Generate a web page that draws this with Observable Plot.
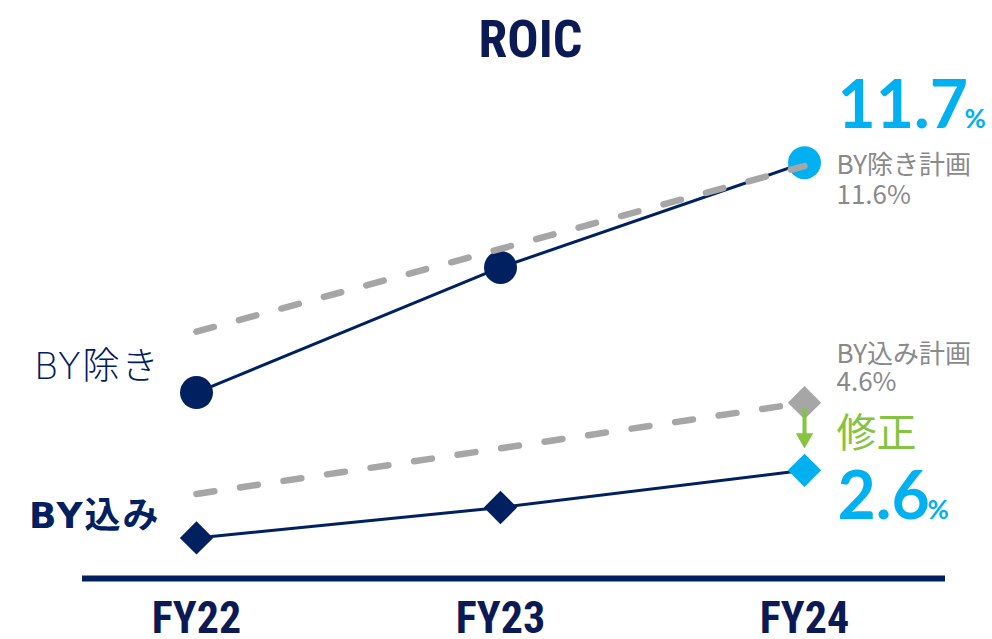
<!DOCTYPE html>
<html>
<head>
<meta charset="utf-8">
<script src="https://cdn.jsdelivr.net/npm/d3@7"></script>
<script src="https://cdn.jsdelivr.net/npm/@observablehq/plot@0.6"></script>
<style>
  html, body { margin: 0; padding: 0; background: #fff; }
  #chart svg { display: block; }
</style>
</head>
<body>
<div id="chart"></div>
<script>
// ---- data ----
const title = "ROIC";
const years = ["FY22", "FY23", "FY24"];
const roicExBY = [4.9, 8.6, 11.7];     // BY除き (actual)
const roicInBY = [0.6, 1.5, 2.6];      // BY込み (actual)
const planYears = ["FY22", "FY24"];
const planExBY = [6.7, 11.6];          // BY除き計画
const planInBY = [1.9, 4.6];           // BY込み計画
const seriesLabels = ["BY除き", "BY込み"];
const planLabels = ["BY除き計画", "BY込み計画"];
const revisionLabel = "修正";
const yDomain = [-0.6, 12];

// ---- styles ----
const navy = "#002060";
const navyText = "#0b1a55";
const lightBlue = "#00b0f0";
const gray = "#a6a6a6";
const grayText = "#8a8a8a";
const green = "#84c441";
const narrow = "'Liberation Sans Narrow', 'Arial Narrow', 'Roboto Condensed', 'DejaVu Sans Condensed', sans-serif";
const jp = "'Noto Sans CJK JP', 'Noto Sans', sans-serif";
const wideJp = "'DejaVu Sans', 'Noto Sans CJK JP', sans-serif";
const num = "Lato, 'Noto Sans', sans-serif";

const exData = years.map((x, i) => ({x, y: roicExBY[i]}));
const inData = years.map((x, i) => ({x, y: roicInBY[i]}));
const planEx = planYears.map((x, i) => ({x, y: planExBY[i]}));
const planIn = planYears.map((x, i) => ({x, y: planInBY[i]}));
const lastEx = exData[exData.length - 1];
const lastIn = inData[inData.length - 1];
const lastPlanEx = planEx[planEx.length - 1];
const lastPlanIn = planIn[planIn.length - 1];

const chart = Plot.plot({
  width: 992,
  height: 639,
  marginLeft: 82,
  marginRight: 47,
  marginTop: 152,
  marginBottom: 61,
  style: {background: "#fff", overflow: "visible"},
  x: {type: "point", domain: years, padding: 0.4148, align: 0.4466, axis: null},
  y: {domain: yDomain, axis: null},
  marks: [
    // baseline
    Plot.ruleY([yDomain[0]], {stroke: navy, strokeWidth: 6}),
    Plot.axisX({tickSize: 0, tickPadding: 23, fontSize: 44, fontWeight: "bold",
      fill: navyText, color: navyText, fontFamily: narrow, label: null}),

    // actual lines
    Plot.line(exData, {x: "x", y: "y", stroke: navy, strokeWidth: 3}),
    Plot.line(inData, {x: "x", y: "y", stroke: navy, strokeWidth: 3}),

    // markers
    Plot.dot(exData, {x: "x", y: "y", r: 16.5, fill: navy, filter: d => d !== lastEx}),
    Plot.dot([lastEx], {x: "x", y: "y", r: 16.5, fill: lightBlue}),
    Plot.dot(inData, {x: "x", y: "y", r: 15, symbol: "diamond2", fill: navy, filter: d => d !== lastIn}),
    Plot.dot([lastIn], {x: "x", y: "y", r: 15, symbol: "diamond2", fill: lightBlue}),

    // plan dashed lines
    Plot.line(planEx, {x: "x", y: "y", stroke: gray, strokeWidth: 6.5,
      strokeDasharray: "18,26", strokeLinecap: "round"}),
    Plot.line(planIn, {x: "x", y: "y", stroke: gray, strokeWidth: 6.5,
      strokeDasharray: "18,26", strokeLinecap: "round"}),
    Plot.dot([lastPlanIn], {x: "x", y: "y", r: 15, symbol: "diamond2", fill: gray}),

    // revision arrow
    Plot.ruleX([lastIn], {x: "x", y1: () => lastPlanIn.y, y2: "y", stroke: green,
      strokeWidth: 4, insetTop: 6, insetBottom: 34}),
    Plot.dot([lastIn], {x: "x", y: "y", symbol: "triangle", rotate: 180, r: 6.5,
      fill: green, dy: -32}),

    // title
    Plot.text([title], {frameAnchor: "top", text: d => d, dx: 16.5, dy: -96,
      lineAnchor: "bottom", fontSize: 52, fontWeight: "bold", fill: navyText, fontFamily: narrow}),

    // left series labels
    Plot.text([exData[0]], {x: "x", y: "y", text: () => seriesLabels[0], textAnchor: "end",
      dx: -36, dy: -14, lineAnchor: "bottom", fontSize: 37, fontWeight: 300, fill: navy, fontFamily: wideJp}),
    Plot.text([inData[0]], {x: "x", y: "y", text: () => seriesLabels[1], textAnchor: "end",
      dx: -36, dy: -10, lineAnchor: "bottom", fontSize: 36, fontWeight: "bold", fill: navy, fontFamily: wideJp}),

    // big value labels
    Plot.text([lastEx], {x: "x", y: "y", text: d => d.y.toFixed(1), textAnchor: "start",
      dx: 33, dy: -35, lineAnchor: "bottom", fontSize: 66, fontWeight: "bold", fill: lightBlue, fontFamily: num}),
    Plot.text([lastEx], {x: "x", y: "y", text: () => "%", textAnchor: "start",
      dx: 160, dy: -35, lineAnchor: "bottom", fontSize: 26, fontWeight: "bold", fill: lightBlue, fontFamily: num}),
    Plot.text([lastIn], {x: "x", y: "y", text: d => d.y.toFixed(1), textAnchor: "start",
      dx: 33, dy: 49, lineAnchor: "bottom", fontSize: 66, fontWeight: "bold", fill: lightBlue, fontFamily: num}),
    Plot.text([lastIn], {x: "x", y: "y", text: () => "%", textAnchor: "start",
      dx: 123, dy: 49, lineAnchor: "bottom", fontSize: 26, fontWeight: "bold", fill: lightBlue, fontFamily: num}),

    // plan labels
    Plot.text([lastPlanEx], {x: "x", y: "y", text: () => planLabels[0], textAnchor: "start",
      dx: 32, dy: 7.5, lineAnchor: "bottom", fontSize: 26, fill: grayText, fontFamily: jp}),
    Plot.text([lastPlanEx], {x: "x", y: "y", text: d => d.y.toFixed(1) + "%", textAnchor: "start",
      dx: 32, dy: 38, lineAnchor: "bottom", fontSize: 26, fill: grayText, fontFamily: jp}),
    Plot.text([lastPlanIn], {x: "x", y: "y", text: () => planLabels[1], textAnchor: "start",
      dx: 32, dy: -40, lineAnchor: "bottom", fontSize: 26, fill: grayText, fontFamily: jp}),
    Plot.text([lastPlanIn], {x: "x", y: "y", text: d => d.y.toFixed(1) + "%", textAnchor: "start",
      dx: 32, dy: -12, lineAnchor: "bottom", fontSize: 26, fill: grayText, fontFamily: jp}),

    // revision label
    Plot.text([lastIn], {x: "x", y: "y", text: () => revisionLabel, textAnchor: "start",
      dx: 32, dy: -23, lineAnchor: "bottom", fontSize: 40, fill: green, fontFamily: jp})
  ]
});

// slight letter spacing for the left-hand series labels
d3.select(chart).selectAll("text")
  .filter(function () { return seriesLabels.includes(this.textContent); })
  .attr("letter-spacing", 2);

document.getElementById("chart").appendChild(chart);
</script>
</body>
</html>
